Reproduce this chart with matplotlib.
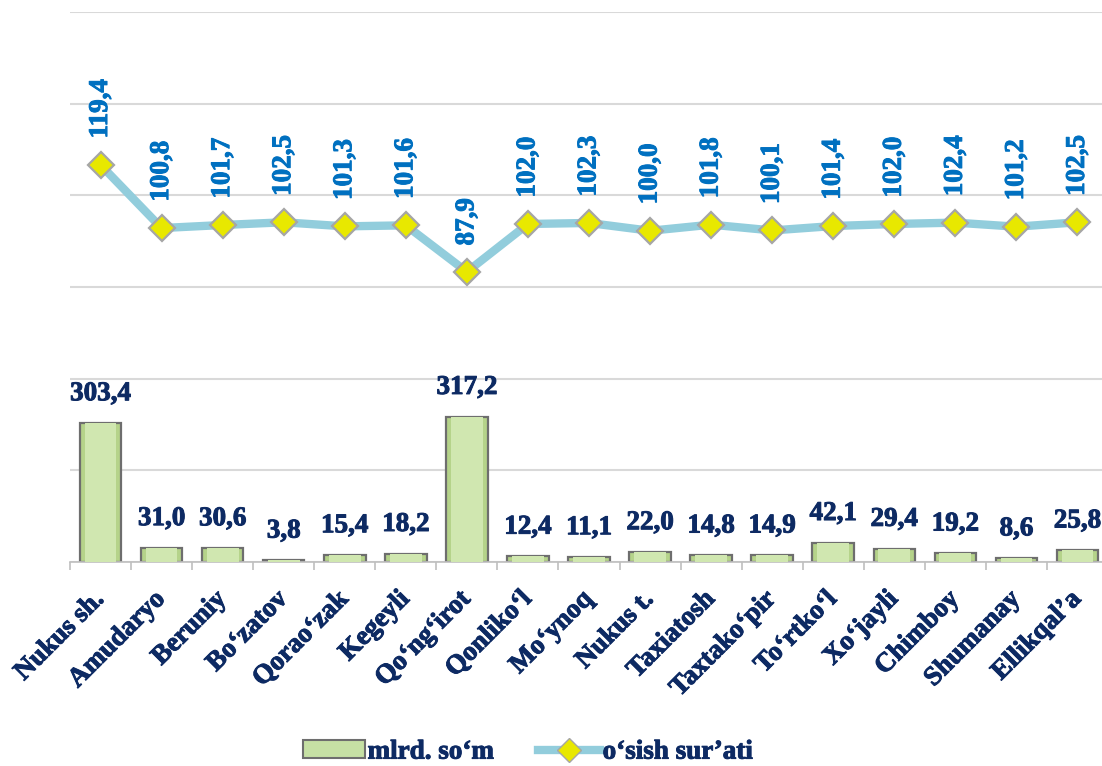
import matplotlib
matplotlib.use("Agg")
import matplotlib.pyplot as plt
from matplotlib.lines import Line2D
from matplotlib.patches import Patch
import matplotlib.patheffects as pe
import numpy as np

categories = ["Nukus sh.", "Amudaryo", "Beruniy", "Bo‘zatov", "Qorao‘zak", "Kegeyli",
              "Qo‘ng‘irot", "Qonliko‘l", "Mo‘ynoq", "Nukus t.", "Taxiatosh", "Taxtako‘pir",
              "To‘rtko‘l", "Xo‘jayli", "Chimboy", "Shumanay", "Ellikqal’a"]
volume = [303.4, 31.0, 30.6, 3.8, 15.4, 18.2, 317.2, 12.4, 11.1, 22.0, 14.8, 14.9,
          42.1, 29.4, 19.2, 8.6, 25.8]
growth = [119.4, 100.8, 101.7, 102.5, 101.3, 101.6, 87.9, 102.0, 102.3, 100.0, 101.8,
          100.1, 101.4, 102.0, 102.4, 101.2, 102.5]
bar_label = "mlrd. so‘m"
line_label = "o‘sish sur’ati"

def fmt(v):
    return f"{v:.1f}".replace(".", ",")

NAVY = "#0d2a63"
BLUE = "#0070c0"
SERIF = ["Liberation Serif", "DejaVu Serif"]
FS = 19.5

def thick(color):
    return [pe.Stroke(linewidth=0.7, foreground=color), pe.Normal()]

fig = plt.figure(figsize=(11.02, 7.66), dpi=100)
W, H = 1102, 766
left, right, top, bottom = 70, 1108, 12, 562
ax = fig.add_axes([left / W, (H - bottom) / H, (right - left) / W, (bottom - top) / H])

x = np.arange(len(categories))
ax.set_xlim(-0.5, len(categories) - 0.5)
ax.set_ylim(0, 1200)
ax.set_yticks(np.arange(0, 1201, 200))
ax.yaxis.grid(True, color="#d9d9d9", lw=1.5)
ax.set_axisbelow(True)
for s in ["left", "right", "top"]:
    ax.spines[s].set_visible(False)
ax.spines["bottom"].set_color("#bfbfbf")
ax.spines["bottom"].set_linewidth(1.2)

# bars with bevel look
ax.bar(x, volume, width=0.68, color="#b5d38a", edgecolor="#6e6e6e", linewidth=1.6, zorder=2)
ax.bar(x, volume, width=0.52, color="#d0e7b0", edgecolor="none", zorder=3)
for xi, v in zip(x, volume):
    ax.annotate(fmt(v), (xi, v), xytext=(0, 12), textcoords="offset points",
                ha="center", va="bottom", fontsize=FS, fontweight="bold",
                color=NAVY, family=SERIF, zorder=5, path_effects=thick(NAVY))

ax.set_xticks(x)
ax.set_xticklabels(categories, rotation=45, ha="right", va="center", rotation_mode="anchor",
                   fontsize=FS, fontweight="bold", color=NAVY, family=SERIF)
for t in ax.get_xticklabels():
    t.set_path_effects(thick(NAVY))
ax.set_xticks(np.arange(-0.5, len(categories), 1.0), minor=True)

# line on secondary axis
ax2 = ax.twinx()
ax2.set_ylim(2.5, 164.4)
ax2.set_xlim(ax.get_xlim())
ax2.axis("off")
ax2.plot(x, growth, color="#92cddc", lw=6, solid_capstyle="round", zorder=3)
ax2.plot(x, growth, ls="none", marker="D", markersize=13, markerfacecolor="#e8e800",
         markeredgecolor="#a6a6a6", markeredgewidth=1.6, zorder=4)
for xi, v in zip(x, growth):
    ax2.annotate(fmt(v), (xi, v), xytext=(0, 19), textcoords="offset points",
                 ha="center", va="bottom", rotation=90, fontsize=FS, fontweight="bold",
                 color=BLUE, family=SERIF, zorder=5, path_effects=thick(BLUE))

# ticks (after twinx, which re-enables left ticks)
ax.tick_params(axis="y", left=False, right=False, labelleft=False)
ax.tick_params(axis="x", which="major", length=0, pad=24)
ax.tick_params(axis="x", which="minor", length=6, color="#bfbfbf", width=1.2)

handles = [Patch(facecolor="#c6e0a4", edgecolor="#6e6e6e", linewidth=1.5),
           Line2D([0], [0], color="#92cddc", lw=6, marker="D", markersize=12,
                  markerfacecolor="#e8e800", markeredgecolor="#a6a6a6")]
leg = fig.legend(handles, [bar_label, line_label], loc="lower center",
                 bbox_to_anchor=(0.479, -0.03), ncol=2, frameon=False, handlelength=2.3,
                 handleheight=0.6, handletextpad=0.1, columnspacing=1.6,
                 prop={"family": SERIF, "weight": "bold", "size": FS}, labelcolor=NAVY)
for t in leg.get_texts():
    t.set_path_effects(thick(NAVY))

fig.savefig("out.png", dpi=100)
